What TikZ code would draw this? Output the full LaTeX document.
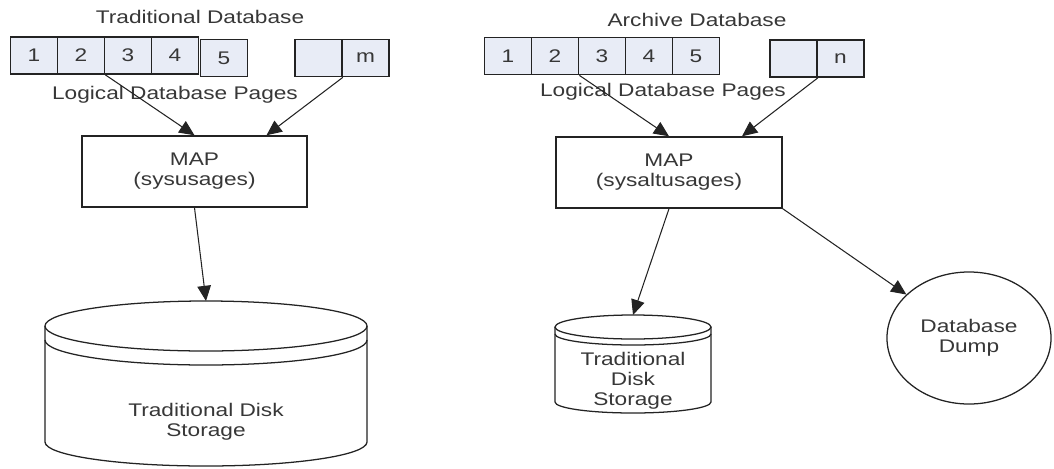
\documentclass[tikz,border=0pt]{standalone}
\usepackage{fontspec}
\setmainfont{Liberation Sans}[FakeStretch=1.24]
\usepackage{tikz}
\usetikzlibrary{positioning,arrows.meta,shapes.geometric,calc}
\definecolor{pagefill}{RGB}{232,236,246}
\definecolor{linegray}{RGB}{35,35,35}
\definecolor{textgray}{RGB}{55,55,55}
\newcommand\diagfont{\fontsize{13}{14.2}\selectfont}
\tikzset{
  pagebox/.style={draw=linegray, line width=1.2pt, fill=pagefill, minimum width=1.175cm, minimum height=0.925cm, inner sep=0pt, text=textgray},
  mapbox/.style={draw=linegray, line width=1pt, minimum height=1.775cm, align=center, text=textgray},
  conn/.style={draw=linegray, line width=0.75pt, -{Triangle[length=0.38cm,width=0.34cm]}},
  lbl/.style={text=textgray, inner sep=0pt, align=center},
  disk/.style={draw=linegray, line width=0.9pt},
}

\begin{document}
\begin{tikzpicture}[x=0.025cm, y=-0.025cm, every node/.append style={font=\diagfont}]
\useasboundingbox (0,0) rectangle (1054,468);
% traditional database
\node[lbl] (ltitle) at (200,17) {Traditional Database};
\foreach \i/\x in {1/34,2/81,3/128,4/175} \node[pagebox] (l\i) at (\x,55.5) {\i};
\node[pagebox] (l5) at (224,58) {5};
\node[pagebox] (lblank) at (318.5,58) {};
\node[pagebox] (lm) at (365.5,58) {m};
\node[lbl] (llogical) at (175,95) {Logical Database Pages};
\node[mapbox, minimum width=5.625cm] (lmap) at (194.5,171.5) {MAP\\(sysusages)};
\draw[disk] (206,326) ellipse [x radius=161, y radius=25];
\draw[disk] (45,340) arc[start angle=180, end angle=0, x radius=161, y radius=25];
\draw[disk] (45,326) -- (45,442) arc[start angle=180, end angle=0, x radius=161, y radius=24] -- (367,326);
\coordinate (ldisktop) at (206,301);
\node[lbl] (ldisk) at (206,422) {Traditional Disk\\Storage};
\draw[conn] (l2.south east) -- (lmap.north);
\draw[conn] (lblank.south east) -- ($(lmap.north)+(72,0)$);
\draw[conn] (lmap.south) -- (ldisktop);
% archive database
\node[lbl] (rtitle) at (697,20) {Archive Database};
\foreach \i/\x in {1/508,2/555,3/602,4/649,5/696} \node[pagebox] (r\i) at (\x,56) {\i};
\node[pagebox] (rblank) at (793.5,58.5) {};
\node[pagebox] (rn) at (840.5,58.5) {n};
\node[lbl] (rlogical) at (663,92) {Logical Database Pages};
\node[mapbox, minimum width=5.65cm] (rmap) at (669,172.5) {MAP\\(sysaltusages)};
\draw[disk] (633,327) ellipse [x radius=78, y radius=12];
\draw[disk] (555,334) arc[start angle=180, end angle=0, x radius=78, y radius=11];
\draw[disk] (555,327) -- (555,402) arc[start angle=180, end angle=0, x radius=78, y radius=11] -- (711,327);
\coordinate (rdisktop) at (633,315);
\node[lbl] (rdisk) at (633,381) {Traditional\\Disk\\Storage};
\node[draw=linegray, ellipse, line width=0.9pt, minimum width=4.1cm, minimum height=3.3cm, inner sep=0pt, lbl] (dump) at (969,338) {Database\\Dump};
\draw[conn] (r2.south east) -- (rmap.north);
\draw[conn] (rblank.south east) -- ($(rmap.north)+(73,0)$);
\draw[conn] (rmap.south) -- (rdisktop);
\draw[conn] (rmap.south east) -- (dump);
\end{tikzpicture}
\end{document}
